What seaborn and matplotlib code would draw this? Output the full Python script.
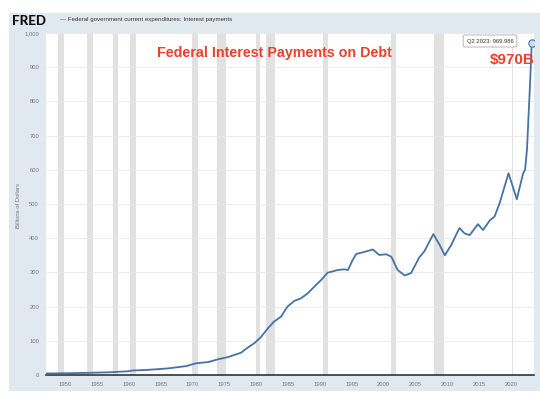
import matplotlib
matplotlib.use("Agg")
import matplotlib.pyplot as plt
from matplotlib.patches import Rectangle
import seaborn as sns
import pandas as pd

# ---- data ----
years = [1947.0, 1950.0, 1954.0, 1957.0, 1960.0, 1960.5, 1963.0, 1966.0, 1969.0,
         1970.5, 1972.5, 1974.0, 1975.5, 1977.6, 1978.5, 1979.7, 1980.7, 1981.8,
         1982.8, 1983.9, 1984.9, 1986.0, 1987.0, 1988.1, 1989.1, 1990.2, 1991.2,
         1992.8, 1993.8, 1994.4, 1995.1, 1995.7, 1997.0, 1998.3, 1999.3, 2000.4,
         2001.2, 2002.2, 2003.3, 2004.3, 2005.6, 2006.4, 2007.8, 2008.8, 2009.6,
         2010.6, 2011.9, 2012.7, 2013.5, 2014.8, 2015.6, 2016.7, 2017.4, 2018.2,
         2019.6, 2020.9, 2021.9, 2022.2, 2022.5, 2022.75, 2023.0, 2023.25]
interest = [4.5, 5, 6.5, 8, 11, 13, 15, 19, 26,
            34, 38, 46, 52, 65, 78, 93, 110, 136,
            156, 171, 200, 217, 224, 239, 258, 278, 299,
            307, 309, 307, 335, 354, 360, 367, 351, 353,
            346, 307, 291, 298, 344, 362, 412, 380, 350,
            380, 430, 414, 409, 441, 424, 453, 463, 502,
            590, 514, 590, 600, 660, 760, 860, 970]
recession_start = [1948.83, 1953.5, 1957.58, 1960.25, 1969.92, 1973.83, 1980.0,
                   1981.5, 1990.5, 2001.17, 2007.92, 2020.08]
recession_end = [1949.79, 1954.37, 1958.29, 1961.12, 1970.87, 1975.21, 1980.54,
                 1982.87, 1991.2, 2001.87, 2009.46, 2020.33]
x_ticks = list(range(1950, 2021, 5))
y_ticks = list(range(0, 1001, 100))
y_tick_labels = ["{:,}".format(v) for v in y_ticks]
title = "Federal Interest Payments on Debt"
series_label = "Federal government current expenditures: Interest payments"
tooltip = "Q2 2023: 969.986"
callout = "$970B"

df = pd.DataFrame({"year": years, "value": interest})

sns.set_theme(style="white")
plt.rcParams["font.family"] = ["Liberation Sans", "DejaVu Sans"]

W, H = 540, 395
fig = plt.figure(figsize=(W / 100, H / 100), dpi=100)
fig.patch.set_facecolor("white")

# background panel
fig.patches.append(Rectangle((9 / W, 1 - 391 / H), (W - 9) / W, (391 - 13) / H,
                             transform=fig.transFigure, facecolor="#e1e9f0",
                             edgecolor="none", zorder=-5))

L, R, T, B = 46, 534, 33, 375
ax = fig.add_axes([L / W, 1 - B / H, (R - L) / W, (B - T) / H])
ax.set_facecolor("white")

for s, e in zip(recession_start, recession_end):
    ax.axvspan(s, e, color="#e1e1e1", lw=0, zorder=0)

for v in y_ticks[1:]:
    ax.axhline(v, color="#e8e8e8", lw=0.6, zorder=0.5)

sns.lineplot(data=df, x="year", y="value", ax=ax, color="#4572a7", linewidth=1.3,
             zorder=3)
sns.scatterplot(x=[years[-1]], y=[interest[-1]], ax=ax, s=28,
                color="#cfdcec", edgecolor="#4572a7", linewidth=0.8, zorder=4)

ax.set_xlim(1947.0, 2023.6)
ax.set_ylim(0, 1000)
ax.set_xticks(x_ticks)
ax.set_yticks(y_ticks)
ax.set_yticklabels(y_tick_labels)
ax.tick_params(axis="both", labelsize=4.2, colors="#777777", length=0)
ax.tick_params(axis="y", pad=5)
ax.tick_params(axis="x", pad=5)
ax.set_xlabel("")
ax.set_ylabel("")
fig.text(19 / W, 1 - 205 / H, "Billions of Dollars", fontsize=4.2, color="#777777",
         rotation=90, ha="center", va="center")
for side in ["top", "right", "left"]:
    ax.spines[side].set_visible(False)
ax.spines["bottom"].set_color("#333333")
ax.spines["bottom"].set_linewidth(1.2)

# header
fig.text(12 / W, 1 - 21 / H, "FRED", fontsize=9.6, fontweight="black",
         family=["Lato", "DejaVu Sans"], color="#111111", va="center", ha="left")
fig.text(60 / W, 1 - 20 / H, "\u2014 " + series_label, fontsize=4.4,
         color="#333333", va="center", ha="left")

# title and callouts
fig.text(274 / W, 1 - 53 / H, title, fontsize=10.3, fontweight="bold",
         color="#e8412c", ha="center", va="center")
fig.text(512 / W, 1 - 60 / H, callout, fontsize=11, fontweight="bold",
         color="#e8412c", ha="center", va="center")
fig.text(490 / W, 1 - 41 / H, tooltip, fontsize=4.2, color="#333333",
         ha="center", va="center",
         bbox=dict(boxstyle="round,pad=0.6,rounding_size=0.3", facecolor="white",
                   edgecolor="#aaaaaa", linewidth=0.6))

fig.savefig("out.png", dpi=100)
